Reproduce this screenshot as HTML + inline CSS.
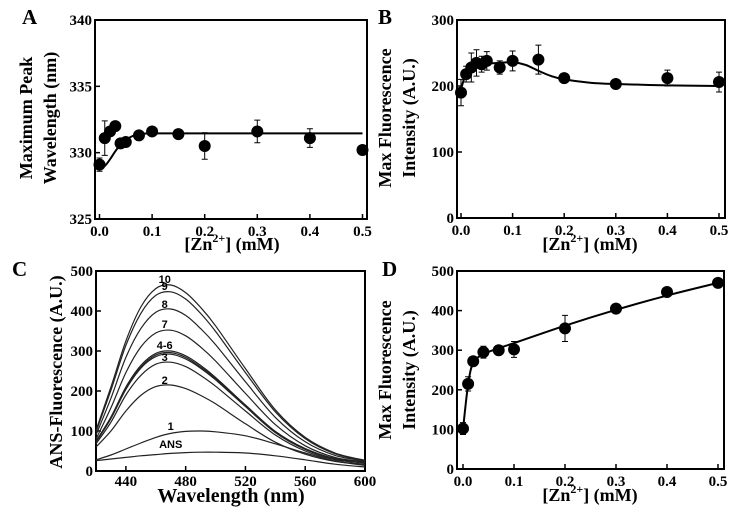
<!DOCTYPE html>
<html><head><meta charset="utf-8">
<style>
html,body{margin:0;padding:0;background:#fff;}
svg{display:block;font-family:"Liberation Serif",serif;font-weight:bold;}
</style></head>
<body>
<svg id="fig" width="740" height="516" viewBox="0 0 740 516" xmlns="http://www.w3.org/2000/svg">
<g id="pA"></g>
<g id="pB"></g>
<g id="pC"></g>
<g id="pD"></g>
</svg>
<script>
// Panel A data
const aX = [0,0.01,0.02,0.03,0.04,0.05,0.075,0.1,0.15,0.2,0.3,0.4,0.5];
const aY = [329.1,331.1,331.6,332.0,330.7,330.8,331.3,331.6,331.4,330.5,331.6,331.1,330.2];
const aErr = [0.5,1.3,0,0,0,0,0,0,0,1.0,0.85,0.7,0];
const aFitX = [0,0.01,0.02,0.03,0.04,0.05,0.06,0.07,0.08,0.1,0.2,0.3,0.4,0.5];
const aFitY = [328.9,329.0,329.5,330.1,330.6,330.95,331.2,331.35,331.4,331.45,331.45,331.45,331.45,331.45];
const aYTicks = [325,330,335,340];
// Panel B data
const bX = [0,0.01,0.02,0.03,0.04,0.05,0.075,0.1,0.15,0.2,0.3,0.4,0.5];
const bY = [190,218,228,235,233,238,228,238,240,212,203,212,206];
const bErr = [20,12,22,20,12,14,10,15,22,0,0,12,15];
const bFitX = [0,0.01,0.02,0.03,0.05,0.075,0.1,0.125,0.15,0.175,0.2,0.25,0.3,0.4,0.5];
const bFitY = [195,220,228,232,234,235,236,232,223,215,210,205,203,201,200];
const bYTicks = [0,100,200,300];
// Panel D data
const dX = [0,0.01,0.02,0.04,0.07,0.1,0.2,0.3,0.4,0.5];
const dY = [102,215,272,295,300,302,355,405,447,470];
const dErr = [15,18,0,15,12,20,33,0,0,0];
const dFitX = [0,0.01,0.02,0.04,0.07,0.1,0.2,0.3,0.4,0.5];
const dFitY = [100,213,268,290,305,318,362,402,438,470];
const dYTicks = [0,100,200,300,400,500];
const xTicks = [0,0.1,0.2,0.3,0.4,0.5];
// Panel C data
const cWl = [420,430,440,450,460,470,480,490,500,520,540,560,580,600];
const cSeries = [
 [102,210,325,410,456,465,446,409,363,256,153,84,45,27],
 [98,202,314,394,439,448,430,394,349,246,148,81,43,26],
 [90,182,284,356,397,405,389,356,316,223,134,73,39,25],
 [80,158,246,310,345,352,338,310,275,194,116,63,34,23],
 [75,135,210,264,294,300,288,264,234,165,99,56,31,22],
 [74,133,207,260,290,296,284,260,231,163,98,55,31,22],
 [72,131,204,257,286,292,280,257,228,161,96,54,30,21],
 [68,122,190,239,267,272,261,239,212,150,90,50,28,20],
 [60,100,150,189,211,215,206,189,168,118,72,42,24,17],
 [28,40,55,70,84,94,99,100,98,88,68,45,25,14],
 [26,30,34,38,41,44,46,47,47,45,38,28,17,10]
];
const cLabels = ["10","9","8","7","4-6","3","2","1","ANS"];
const cLabelVal = [470,452,408,358,305,275,218,103,57];
const cXTicks = [440,480,520,560,600];
const cYTicks = [0,100,200,300,400,500];

const NS="http://www.w3.org/2000/svg";
function mk(parent,tag,attrs,text){const e=document.createElementNS(NS,tag);for(const k in attrs)e.setAttribute(k,attrs[k]);if(text!==undefined)e.textContent=text;parent.appendChild(e);return e;}
function lin(d0,d1,r0,r1){return v=>r0+(v-d0)*(r1-r0)/(d1-d0);}
function smooth(pts){let d="M"+pts[0][0]+","+pts[0][1];for(let i=0;i<pts.length-1;i++){const p0=pts[Math.max(0,i-1)],p1=pts[i],p2=pts[i+1],p3=pts[Math.min(pts.length-1,i+2)];const c1=[p1[0]+(p2[0]-p0[0])/6,p1[1]+(p2[1]-p0[1])/6],c2=[p2[0]-(p3[0]-p1[0])/6,p2[1]-(p3[1]-p1[1])/6];d+=" C"+c1+" "+c2+" "+p2;}return d;}

function frame(g,box,xs,ys,xt,yt,xfmt,yfmt,xoff){
  xoff=xoff||17;
  const r=mk(g,'rect',{x:box.l,y:box.t,width:box.r-box.l,height:box.b-box.t,fill:'none',stroke:'#000','stroke-width':2});
  
  
  xt.forEach(v=>{const x=xs(v);mk(g,'line',{x1:x,x2:x,y1:box.b,y2:box.b-5,stroke:'#000','stroke-width':1.5});
    const t=mk(g,'text',{x:x,y:box.b+xoff,'text-anchor':'middle','font-size':15},xfmt(v));
    
    });
  yt.forEach(v=>{const y=ys(v);mk(g,'line',{x1:box.l,x2:box.l+5,y1:y,y2:y,stroke:'#000','stroke-width':1.5});
    const t=mk(g,'text',{x:box.l-3,y:y+5,'text-anchor':'end','font-size':15},yfmt(v));
    
    });
}
function zTitle(g,cx,y){const t=mk(g,'text',{x:cx,y:y,'text-anchor':'middle','font-size':18});
  
  
  mk(t,'tspan',{},'[Zn');mk(t,'tspan',{dy:-8,'font-size':12},'2+');mk(t,'tspan',{dy:8},'] (mM)');}
function yTitle(g,x,cy,lines,fs){lines.forEach((s,i)=>{const t=mk(g,'text',{x:0,y:0,'text-anchor':'middle','font-size':fs,transform:`translate(${x+i*24},${cy}) rotate(-90)`},s);
  
  });}
function letter(g,x,y,s){const t=mk(g,'text',{x:x,y:y,'font-size':21},s);
  
  }
function scatter(g,xs,ys,X,Y,E,FX,FY){
  const p=mk(g,'path',{d:smooth(FX.map((v,i)=>[xs(v),ys(FY[i])])),fill:'none',stroke:'#000','stroke-width':2});
  
  
  X.forEach((v,i)=>{const x=xs(v),y=ys(Y[i]);
    if(E[i]>0){const y1=ys(Y[i]+E[i]),y2=ys(Y[i]-E[i]);
      mk(g,'path',{d:`M${x},${y1}V${y2}M${x-3},${y1}H${x+3}M${x-3},${y2}H${x+3}`,stroke:'#000','stroke-width':1,fill:'none'});}
    const c=mk(g,'circle',{cx:x,cy:y,r:6,fill:'#000'});
    
    });
}
const f1=v=>v.toFixed(1), f0=v=>String(v);
// A
{const g=document.getElementById('pA');const box={l:95,r:367,t:20,b:219};
 const xs=lin(0,0.5,99.5,362.5),ys=lin(325,340,219,20);
 frame(g,box,xs,ys,xTicks,aYTicks,f1,f0);scatter(g,xs,ys,aX,aY,aErr,aFitX,aFitY);
 zTitle(g,232,250);yTitle(g,32,118,["Maximum Peak","Wavelength (nm)"],18);letter(g,22,24,"A");}
// B
{const g=document.getElementById('pB');const box={l:457,r:725,t:20,b:218};
 const xs=lin(0,0.5,461,719),ys=lin(0,300,218,20);
 frame(g,box,xs,ys,xTicks,bYTicks,f1,f0);scatter(g,xs,ys,bX,bY,bErr,bFitX,bFitY);
 zTitle(g,590,250);yTitle(g,391,118,["Max Fluorescence","Intensity (A.U.)"],18);letter(g,378,24,"B");}
// D
{const g=document.getElementById('pD');const box={l:457,r:724,t:271,b:469};
 const xs=lin(0,0.5,463,718),ys=lin(0,500,469,271);
 frame(g,box,xs,ys,xTicks,dYTicks,f1,f0);scatter(g,xs,ys,dX,dY,dErr,dFitX,dFitY);
 zTitle(g,590,501);yTitle(g,391,370,["Max Fluorescence","Intensity (A.U.)"],18);letter(g,382,276,"D");}
// C
{const g=document.getElementById('pC');const box={l:96,r:365,t:271,b:471};
 const xs=lin(420,600,96,365),ys=lin(0,500,471,271);
 frame(g,box,xs,ys,cXTicks,cYTicks,f0,f0,15);
 cSeries.forEach(s=>{const p=mk(g,'path',{d:smooth(cWl.map((w,i)=>[xs(w),ys(s[i])])),fill:'none',stroke:'#222','stroke-width':1.2});
   
   });
 cLabels.forEach((s,i)=>{const t=mk(g,'text',{x:xs(i>=7?470:466),y:ys(cLabelVal[i]),'text-anchor':'middle','font-size':11,'font-family':'Liberation Sans, sans-serif'},s);
   
   });
 const t=mk(g,'text',{x:231,y:502,'text-anchor':'middle','font-size':20},'Wavelength (nm)');
 
 
 yTitle(g,62,372,["ANS-Fluorescence (A.U.)"],18);letter(g,12,276,"C");}
</script>
</body></html>
